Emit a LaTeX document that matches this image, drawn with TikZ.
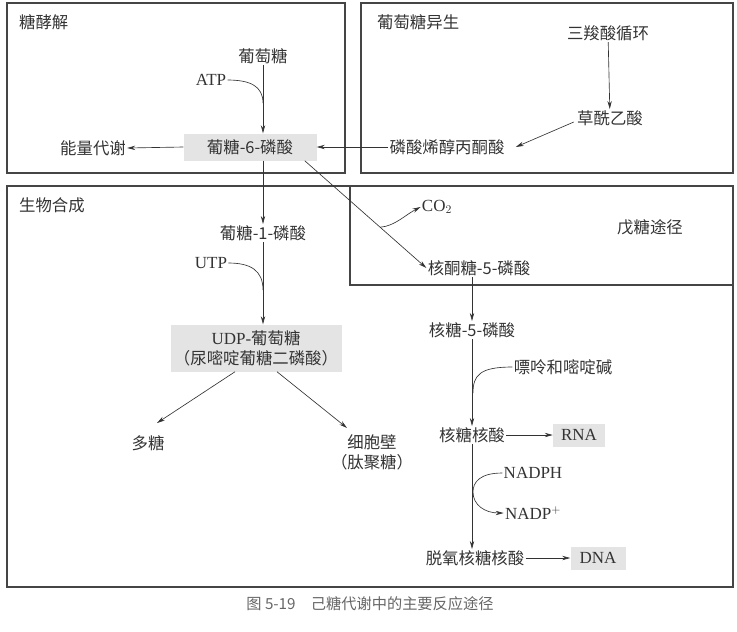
\documentclass[tikz,border=0pt]{standalone}
\usepackage{fontspec}
\setmainfont{Liberation Serif}
\newfontfamily\cjk{Noto Sans CJK SC}
\usepackage{tikz}
\usetikzlibrary{positioning,arrows.meta,calc}
\definecolor{pathInk}{HTML}{333333}
\definecolor{pathFrame}{HTML}{454545}
\definecolor{pathShade}{HTML}{E4E4E4}

\begin{document}
\begin{tikzpicture}[x=0.03cm,y=-0.03cm,
    region/.style={draw=pathFrame,line width=0.9pt},
    title/.style={anchor=west,font=\cjk\fontsize{14}{16}\selectfont,text=pathInk},
    met/.style={inner sep=1pt,font=\cjk\fontsize{14}{17}\selectfont,text=pathInk,align=center},
    latin/.style={font=\fontsize{14.5}{16}\selectfont},
    hilite/.style={met,fill=pathShade,inner sep=0pt},
    arrow/.style={-{Stealth[length=2.4mm,width=1.3mm]},line width=0.55pt,draw=pathInk},
    feed/.style={line width=0.55pt,draw=pathInk}]
  \useasboundingbox (0,0) rectangle (737,631);
  % frames
  \draw[region] (7,3) rectangle (345,173);
  \draw[region] (361,3) rectangle (733,173);
  \draw[region] (7,186) rectangle (733,587);
  \draw[region] (350,186) rectangle (733,285);
  \node[title] (tglyc) at (15,22) {糖酵解};
  \node[title] (tgng) at (373,22) {葡萄糖异生};
  \node[title] (tbio) at (15,205) {生物合成};
  \node[met] (tpent) at (650,227) {戊糖途径};
  % glycolysis
  \node[met] (glc) at (263,56) {葡萄糖};
  \node[met,latin] (atp) at (211,80) {ATP};
  \node[hilite,minimum width=133*0.03cm,minimum height=27*0.03cm] (g6p) at (250,147) {葡糖-6-磷酸};
  \node[met] (energy) at (93,148) {能量代谢};
  \coordinate (jatp) at (263,103);
  \draw[arrow] (glc.south) -- (glc.south |- g6p.north);
  \draw[feed] (atp.east) .. controls (250,80) and (263,86) .. (jatp);
  \draw[arrow] (g6p.west) -- (energy.east);
  % gluconeogenesis
  \node[met] (tca) at (608,33) {三羧酸循环};
  \node[met] (oaa) at (610,118) {草酰乙酸};
  \node[met] (pep) at (447,147) {磷酸烯醇丙酮酸};
  \draw[arrow] (tca) -- (oaa);
  \draw[arrow] ($(oaa.west)+(-2,4)$) -- ($(pep.east)+(10,0)$);
  \draw[arrow] (pep.west) -- (g6p.east);
  % biosynthesis
  \node[met] (g1p) at (263,233) {葡糖-1-磷酸};
  \node[met,latin] (utp) at (211,263) {UTP};
  \node[hilite,minimum width=171*0.03cm,minimum height=47*0.03cm] (udpg) at (256,348)
    {{\rmfamily\fontsize{14.5}{17}\selectfont UDP-}葡萄糖\\（尿嘧啶葡糖二磷酸）};
  \node[met] (poly) at (148,443) {多糖};
  \node[met] (wall) at (372,452) {细胞壁\\（肽聚糖）};
  \coordinate (jutp) at (263,290);
  \draw[arrow] (g1p.north |- g6p.south) -- (g1p.north);
  \draw[arrow] (g1p.south) -- (g1p.south |- udpg.north);
  \draw[feed] (utp.east) .. controls (250,263) and (263,270) .. (jutp);
  \draw[arrow] ($(udpg.south)+(-21,0)$) -- ($(poly.north)+(9,-11)$);
  \draw[arrow] ($(udpg.south)+(21,0)$) -- ($(wall.north)+(-25,-5)$);
  % pentose pathway
  \node[met] (ru5p) at (479,268) {核酮糖-5-磷酸};
  \node[met,latin] (co2) at (437,207) {CO$_2$};
  \draw[arrow] ($(g6p.south east)+(-12,0)$) -- (ru5p.west);
  \coordinate (jco2) at ($($(g6p.south east)+(-12,0)$)!0.62!(ru5p.west)$);
  \draw[arrow] (jco2) .. controls (395,226) and (405,215) .. (co2.west);
  % nucleotides
  \node[met] (r5p) at (472,330) {核糖-5-磷酸};
  \node[met] (pur) at (563,367) {嘌呤和嘧啶碱};
  \node[met] (rnuc) at (472,435) {核糖核酸};
  \node[hilite,latin,minimum width=52*0.03cm,minimum height=23*0.03cm] (rna) at (579,435) {RNA};
  \node[met,latin] (nadph) at (533,473) {NADPH};
  \node[met,latin] (nadp) at (533,513) {NADP$^+$};
  \node[met] (dnuc) at (475,558) {脱氧核糖核酸};
  \node[hilite,latin,minimum width=55*0.03cm,minimum height=23*0.03cm] (dna) at (598,558) {DNA};
  \coordinate (jpur) at (473,393);
  \coordinate (jnad) at (473,492);
  \draw[arrow] (r5p.north |- ru5p.south) -- (r5p.north);
  \draw[arrow] (r5p.south) -- (r5p.south |- rnuc.north);
  \draw[feed] (pur.west) .. controls (480,367) and (473,375) .. (jpur);
  \draw[arrow] (rnuc.east) -- (rna.west);
  \draw[arrow] (rnuc.south) -- (rnuc.south |- dnuc.north);
  \draw[arrow] (nadph.west) .. controls (480,473) and (473,482) .. (jnad)
    .. controls (473,505) and (485,513) .. (nadp.west);
  \draw[arrow] (dnuc.east) -- (dna.west);
  % caption
  \node[font=\cjk\fontsize{13}{15}\selectfont,text=black!60] (caption) at (370,604)
    {图 5-19\quad 己糖代谢中的主要反应途径};
\end{tikzpicture}
\end{document}
